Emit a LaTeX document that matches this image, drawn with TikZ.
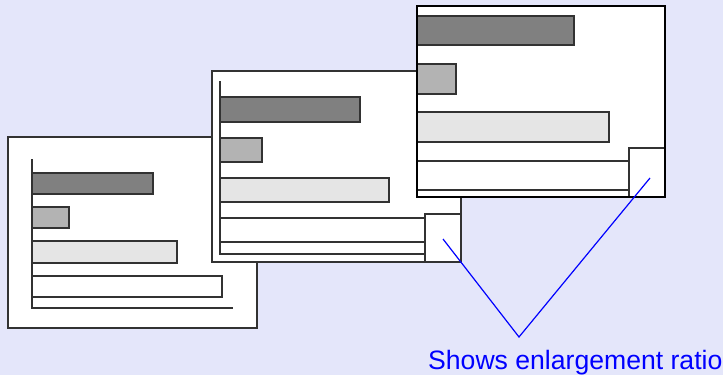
\documentclass[tikz,border=0pt]{standalone}
\usepackage{fontspec}
\setmainfont{Liberation Sans}
\definecolor{bg}{RGB}{228,230,250}
\definecolor{edge}{RGB}{50,50,50}
\definecolor{bardark}{RGB}{128,128,128}
\definecolor{barmid}{RGB}{179,179,179}
\definecolor{barlight}{RGB}{229,229,229}
\definecolor{callout}{RGB}{0,0,255}
\begin{document}
\begin{tikzpicture}[x=1pt,y=-1pt,
  panel/.style={fill=white,draw=edge,line width=1.2pt},
  toppanel/.style={fill=white,draw=black,line width=2pt},
  dbar/.style={fill=bardark,draw=edge,line width=1.2pt},
  mbar/.style={fill=barmid,draw=edge,line width=1.2pt},
  lbar/.style={fill=barlight,draw=edge,line width=1.2pt},
  wbar/.style={fill=white,draw=edge,line width=1.2pt},
  axisline/.style={draw=edge,line width=1.2pt},
  zoombox/.style={fill=white,draw=edge,line width=1.2pt},
  leader/.style={draw=callout,line width=1.2pt},
  lbltext/.style={text=callout,font=\fontsize{26.6}{30}\selectfont,inner sep=0pt,anchor=base west}]
\useasboundingbox (0,0) rectangle (723,375);
\fill[bg] (0,0) rectangle (723,375);
% ---- panel 1
\path[panel] (8,137) rectangle (257,328);
\path[dbar] (32,173) rectangle (153,194);
\path[mbar] (32,207) rectangle (69,228);
\path[lbar] (32,241) rectangle (177,263);
\path[wbar] (32,276) rectangle (222,297);
\path[axisline] (32,159) -- (32,308) -- (233,308);
% ---- panel 2
\path[panel] (212,71) rectangle (461,262);
\begin{scope}
\clip (212,71) rectangle (461,262);
\path[dbar] (220,97) rectangle (360,122);
\path[mbar] (220,138) rectangle (262,162);
\path[lbar] (220,178) rectangle (389,202);
\path[wbar] (220,218) rectangle (440,242);
\path[axisline] (220,81) -- (220,254) -- (440,254);
\end{scope}
\path[zoombox] (425,214) rectangle (461,262);
% ---- panel 3
\path[toppanel] (417,6) rectangle (665,197);
\begin{scope}
\clip (417,6) rectangle (665,197);
\path[dbar] (417,16) rectangle (574,45);
\path[mbar] (417,64) rectangle (456,94);
\path[lbar] (417,112) rectangle (609,142);
\path[wbar] (417,161) rectangle (640,190);
\end{scope}
\path[zoombox] (629,148) rectangle (665,197);
\path[draw=black,line width=2pt] (417,6) rectangle (665,197);
% ---- callout
\node[lbltext] (lbl) at (428,369) {Shows enlargement ratio};
\coordinate (v) at (519,337);
\coordinate (z2) at (443,239);
\coordinate (z3) at (650,178);
\draw[leader] (z2) -- (v) -- (z3);
\end{tikzpicture}
\end{document}
